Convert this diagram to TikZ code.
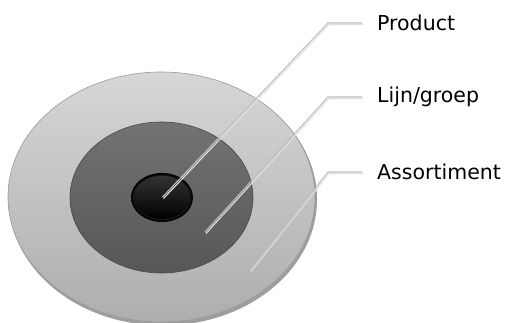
\documentclass[tikz,border=0pt]{standalone}
\usepackage{fontspec}
\setmainfont{DejaVu Sans}
\begin{document}
\begin{tikzpicture}[x=1pt,y=-1pt,
  lbl/.style={anchor=west,inner sep=0pt,font=\fontsize{20.5}{24}\selectfont},
  leader/.style={draw=black!25,line width=1.1pt},
  leadsh/.style={draw=black!12,line width=1.1pt}]
\useasboundingbox (0,0) rectangle (510,323);
% outer disc
\fill[black!38] (163,199.5) ellipse [x radius=154,y radius=126];
\shade[top color=black!16,bottom color=black!32] (161.5,197) ellipse [x radius=153.5,y radius=125];
\draw[black!40,line width=0.6pt] (161.5,197) ellipse [x radius=153.5,y radius=125];
% middle disc
\shade[top color=black!55,bottom color=black!66] (161.5,197.5) ellipse [x radius=91.5,y radius=75.5];
\draw[black!72,line width=0.6pt] (161.5,197.5) ellipse [x radius=91.5,y radius=75.5];
% inner disc
\shade[inner color=black!70,outer color=black,shading=radial] (162,197.5) ellipse [x radius=31,y radius=24.5];
\fill[black!90] (162,197.5) ellipse [x radius=29,y radius=22.5];
\shade[top color=black!80,bottom color=black] (162,197.5) ellipse [x radius=28,y radius=21.5];
% anchor points
\coordinate (pA) at (162.5,197);
\coordinate (pB) at (205,232);
\coordinate (pC) at (250,270);
\coordinate (kA) at (328,23);
\coordinate (kB) at (328,97);
\coordinate (kC) at (328,172);
\coordinate (eA) at (362,23);
\coordinate (eB) at (362,97);
\coordinate (eC) at (362,172);
% leaders
\draw[leadsh] ([shift={(1,1.5)}]pA) -- ([shift={(1,1.5)}]kA) -- ([shift={(1,1.5)}]eA);
\draw[leadsh] ([shift={(1,1.5)}]pB) -- ([shift={(1,1.5)}]kB) -- ([shift={(1,1.5)}]eB);
\draw[leadsh] ([shift={(1,1.5)}]pC) -- ([shift={(1,1.5)}]kC) -- ([shift={(1,1.5)}]eC);
\draw[leader] (pA) -- (kA) -- (eA);
\draw[leader] (pB) -- (kB) -- (eB);
\draw[leader] (pC) -- (kC) -- (eC);
% labels
\node[lbl] (tA) at (377,23) {Product};
\node[lbl] (tB) at (377,97) {Lijn/groep};
\node[lbl] (tC) at (377,172) {Assortiment};
\end{tikzpicture}
\end{document}
